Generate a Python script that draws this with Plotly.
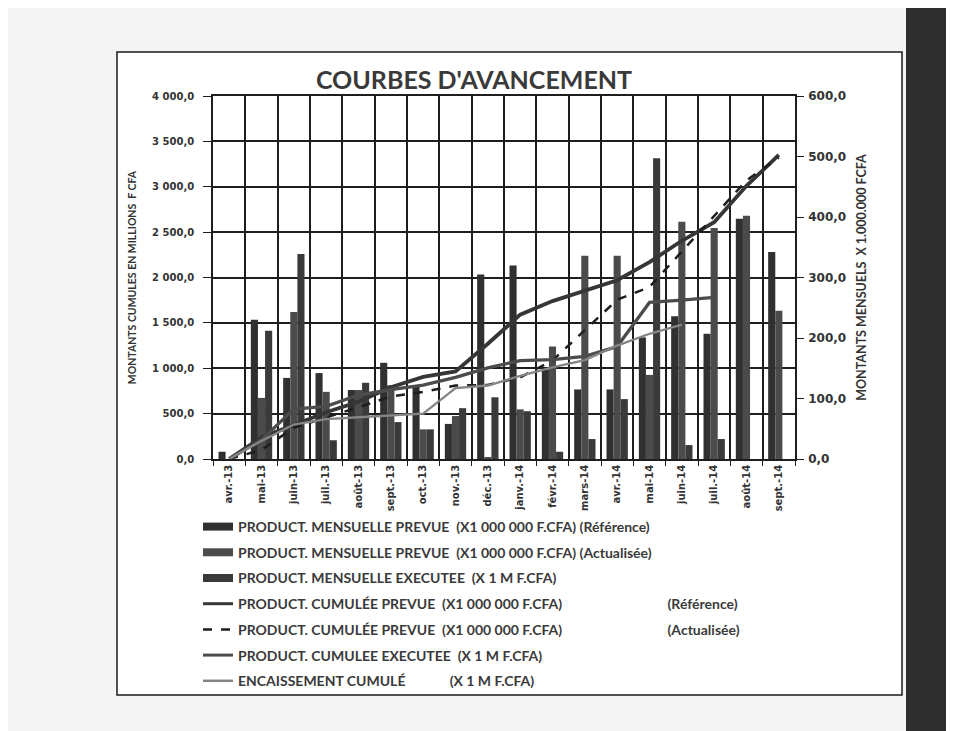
import plotly.graph_objects as go

months = ['avr.-13', 'mai-13', 'juin-13', 'juil.-13', 'août-13', 'sept.-13', 'oct.-13',
          'nov.-13', 'déc.-13', 'janv.-14', 'févr.-14', 'mars-14', 'avr.-14', 'mai-14',
          'juin-14', 'juil.-14', 'août-14', 'sept.-14']

# monthly bars (right axis, millions F CFA)
mens_ref = [12, 230, 134, 142, 114, 159, 120, 58, 305, 320, 148, 115, 115, 201, 236, 207, 397, 342]
mens_act = [0, 101, 243, 111, 114, 122, 49, 71, 3, 82, 186, 336, 336, 139, 392, 382, 402, 245]
mens_exe = [0, 212, 339, 31, 126, 61, 49, 84, 102, 79, 12, 33, 99, 497, 23, 33, None, None]

# cumulative lines (left axis, millions F CFA)
cum_ref = [0, 240, 375, 515, 630, 790, 905, 965, 1270, 1590, 1740, 1855, 1970, 2170, 2405, 2610, 3010, 3350]
cum_act = [0, 100, 345, 455, 570, 690, 740, 810, 815, 900, 1085, 1420, 1755, 1895, 2285, 2670, 3070, 3320]
cum_exe = [0, 210, 550, 580, 705, 765, 815, 900, 1005, 1085, 1095, 1130, 1240, 1725, 1750, 1780]
encaiss = [0, 200, 380, 440, 460, 480, 500, 780, 810, 915, 1010, 1090, 1250, 1380, 1480]

left_vals = [0, 500, 1000, 1500, 2000, 2500, 3000, 3500, 4000]
left_text = ['0,0', '500,0', '1 000,0', '1 500,0', '2 000,0', '2 500,0', '3 000,0', '3 500,0', '4 000,0']
right_vals = [0, 100, 200, 300, 400, 500, 600]
right_text = ['0,0', '100,0', '200,0', '300,0', '400,0', '500,0', '600,0']

FONT = 'Lato'
TICKFONT = 'DejaVu Sans'
TXT = '#333333'
NB = '\u00a0'

c_bar1, c_bar2, c_bar3 = '#303030', '#4b4b4b', '#3a3a3a'
c_ref, c_act, c_exe, c_enc = '#363636', '#1e1e1e', '#4c4c4c', '#858585'

fig = go.Figure()

# bars on primary y (right side, monthly)
for vals, col in [(mens_ref, c_bar1), (mens_act, c_bar2), (mens_exe, c_bar3)]:
    fig.add_trace(go.Bar(x=months, y=vals, marker=dict(color=col, line=dict(width=0)),
                         yaxis='y', showlegend=False))

# cumulative lines on y2 (left side)
fig.add_trace(go.Scatter(x=months, y=cum_ref, mode='lines', yaxis='y2', showlegend=False,
                         line=dict(color=c_ref, width=3.8)))
fig.add_trace(go.Scatter(x=months, y=cum_act, mode='lines', yaxis='y2', showlegend=False,
                         line=dict(color=c_act, width=2.5, dash='dash')))
fig.add_trace(go.Scatter(x=months[:len(cum_exe)], y=cum_exe, mode='lines', yaxis='y2', showlegend=False,
                         line=dict(color=c_exe, width=3.3)))
fig.add_trace(go.Scatter(x=months[:len(encaiss)], y=encaiss, mode='lines', yaxis='y2', showlegend=False,
                         line=dict(color=c_enc, width=2.3)))

pad = NB * 31
legend_items = [
    ('PRODUCT. MENSUELLE PREVUE' + NB * 2 + '(X1 000 000 F.CFA) (Référence)', c_bar1, 8, 'solid'),
    ('PRODUCT. MENSUELLE PREVUE' + NB * 2 + '(X1 000 000 F.CFA) (Actualisée)', c_bar2, 8, 'solid'),
    ('PRODUCT. MENSUELLE EXECUTEE' + NB * 2 + '(X 1 M F.CFA)', c_bar3, 8, 'solid'),
    ('PRODUCT. CUMULÉE PREVUE' + NB * 2 + '(X1 000 000 F.CFA)' + pad + '(Référence)', c_ref, 3, 'solid'),
    ('PRODUCT. CUMULÉE PREVUE' + NB * 2 + '(X1 000 000 F.CFA)' + pad + '(Actualisée)', c_act, 2.5, 'dash'),
    ('PRODUCT. CUMULEE EXECUTEE' + NB * 2 + '(X 1 M F.CFA)', c_exe, 3, 'solid'),
    ('ENCAISSEMENT CUMULÉ' + NB * 13 + '(X 1 M F.CFA)', c_enc, 2.5, 'solid'),
]
for i, (name, col, w, dash) in enumerate(legend_items):
    fig.add_trace(go.Scatter(x=[None], y=[None], mode='lines', name=name, yaxis='y2',
                             legendgroup='g%d' % i,
                             line=dict(color=col, width=w, dash=dash)))

# screen-pixel helpers (plot area on screen: x 213..795, y 96..459)
def px_x(p):
    return (p - 213) / 582.0

def px_y(p):
    return (459 - p) / 363.0

tickf = dict(family=TICKFONT, size=10, color=TXT, weight='bold')
tickf_r = dict(family=TICKFONT, size=12, color=TXT, weight='bold')

fig.update_layout(
    width=954, height=731, autosize=False,
    margin=dict(l=205, r=167, t=88, b=280),
    paper_bgcolor='#f4f4f4', plot_bgcolor='white',
    font=dict(family=FONT, color=TXT, size=12, weight='bold'),
    barmode='group', bargap=0.34, bargroupgap=0,
    title=dict(text="COURBES D'AVANCEMENT", x=(474 - 8) / 954, y=1 - (80 - 8) / 731,
               xref='container', yref='container', xanchor='center', yanchor='middle',
               font=dict(family=FONT, size=25, color='#3a3a3a', weight='bold')),
    xaxis=dict(type='category', tickson='boundaries', showgrid=True, gridcolor='#1e1e1e', gridwidth=1.6,
               tickangle=-90, ticks='outside', ticklen=5, tickcolor='#1e1e1e',
               showline=True, linecolor='#1e1e1e', linewidth=1.6, mirror=True, tickfont=tickf),
    yaxis=dict(range=[0, 600], side='right', showgrid=False, zeroline=False,
               tickvals=right_vals, ticktext=right_text, ticks='outside', ticklen=7, tickcolor='#1e1e1e',
               showline=True, linecolor='#1e1e1e', linewidth=1.6, tickfont=tickf_r, ticklabelstandoff=2,
               title=dict(text='MONTANTS MENSUELS' + NB * 2 + 'X 1.000.000 FCFA', standoff=12,
                          font=dict(family=FONT, size=12.5, color=TXT, weight='bold'))),
    yaxis2=dict(range=[0, 4000], side='left', overlaying='y', showgrid=True, gridcolor='#1e1e1e',
                gridwidth=1.6, zeroline=False,
                tickvals=left_vals, ticktext=left_text, ticks='outside', ticklen=8, tickcolor='#1e1e1e',
                showline=True, linecolor='#1e1e1e', linewidth=1.6, tickfont=tickf, ticklabelstandoff=7,
                title=dict(text='MONTANTS CUMULES EN MILLIONS' + NB * 2 + 'F CFA', standoff=13,
                           font=dict(family=FONT, size=10.5, color=TXT, weight='bold'))),
    legend=dict(x=px_x(198), y=px_y(511), xanchor='left', yanchor='top',
                traceorder='grouped', tracegroupgap=4.5, bgcolor='rgba(0,0,0,0)',
                font=dict(family=FONT, size=14, color='#3a3a3a', weight='bold')),
    shapes=[
        dict(type='rect', xref='paper', yref='paper', x0=px_x(117), x1=px_x(902), y0=px_y(695), y1=px_y(52),
             line=dict(color='#1a1a1a', width=1.5), fillcolor='white', layer='below'),
        dict(type='rect', xref='paper', yref='paper', x0=px_x(906), x1=px_x(990), y0=px_y(760), y1=px_y(-30),
             line=dict(width=0), fillcolor='#2e2e2e', layer='below'),
    ],
)

fig.write_html('out.html')
